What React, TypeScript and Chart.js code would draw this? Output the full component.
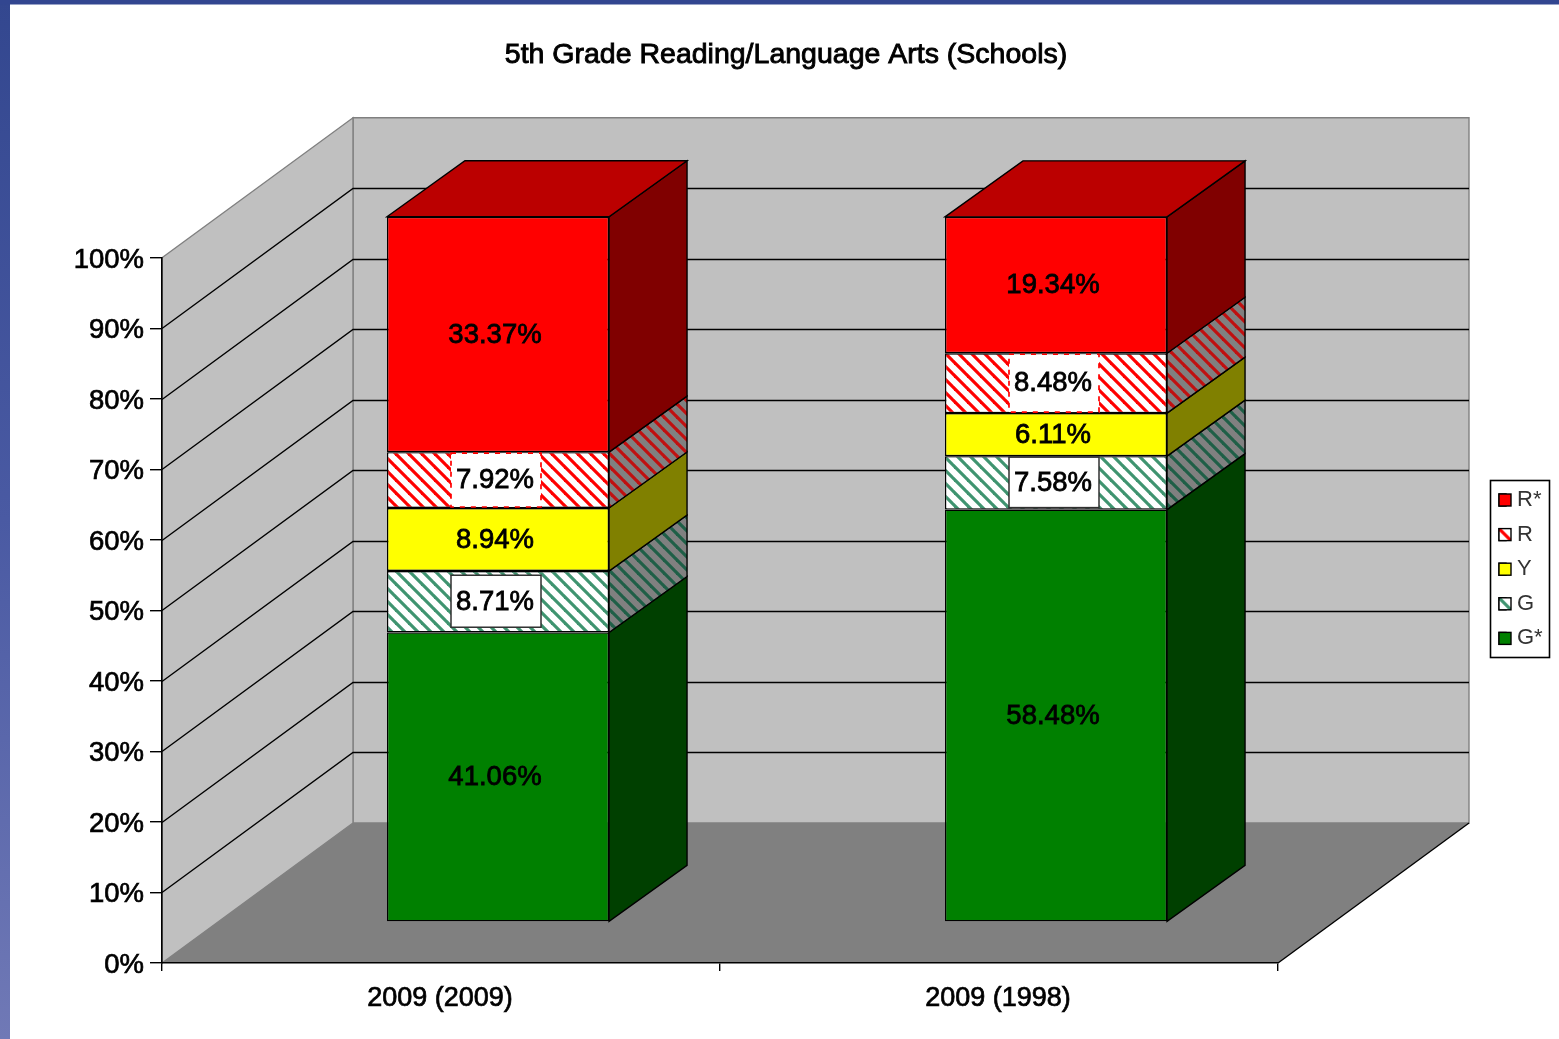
import React, { useEffect, useRef } from "react";
import { Chart, registerables } from "chart.js";

Chart.register(...registerables);

const categories = ["2009 (2009)", "2009 (1998)"];
const gStar = [41.06, 58.48];
const g = [8.71, 7.58];
const y = [8.94, 6.11];
const r = [7.92, 8.48];
const rStar = [33.37, 19.34];

const FONT = "'Liberation Sans', Arial, sans-serif";
const WALL_DX = 191;
const WALL_DY = -140;
const BAR_DX = 57;
const BAR_DY = -41;
const DEPTH_X = 78;
const DEPTH_Y = -56;
const TITLE_SIZE = 28.5;

function hatch(bg: string, fg: string, period = 13, lw = 3.2) {
  const c = document.createElement("canvas");
  c.width = period;
  c.height = period;
  const x = c.getContext("2d")!;
  x.fillStyle = bg;
  x.fillRect(0, 0, period, period);
  x.strokeStyle = fg;
  x.lineWidth = lw;
  for (const o of [-period, 0, period]) {
    x.beginPath();
    x.moveTo(o - 2, -2);
    x.lineTo(o + period + 2, period + 2);
    x.stroke();
  }
  return x.createPattern(c, "repeat")!;
}

function poly(ctx: CanvasRenderingContext2D, pts: number[][], fill: any, stroke?: string | null) {
  ctx.beginPath();
  pts.forEach((p, i) => (i ? ctx.lineTo(p[0], p[1]) : ctx.moveTo(p[0], p[1])));
  ctx.closePath();
  if (fill) {
    ctx.fillStyle = fill;
    ctx.fill();
  }
  if (stroke) {
    ctx.strokeStyle = stroke;
    ctx.lineWidth = 1.4;
    ctx.stroke();
  }
}

function nudgeLabels(scale: any, dx: number, dy: number) {
  if (scale.__nudged) return;
  scale.__nudged = true;
  const orig = scale._computeLabelItems;
  scale._computeLabelItems = function (area: any) {
    const items = orig.call(this, area);
    items.forEach((it: any) => {
      it.options.translation[0] += dx;
      it.options.translation[1] += dy;
    });
    return items;
  };
}

const scenePlugin: any = {
  id: "scene",
  afterLayout(chart: any) {
    const t = chart.titleBlock;
    if (t) {
      t.left = 0;
      t.right = 1572;
    }
    const l = chart.legend;
    if (l) {
      l.left = 1486.4;
      l.right = 1556;
      l.width = 69.6;
      l.top = 476.4;
      l.bottom = 700;
      l.height = 223.6;
    }
    nudgeLabels(chart.scales.y, 0, 2.3);
    nudgeLabels(chart.scales.x, -1, 0);
  },
  beforeDraw(chart: any) {
    const ctx: CanvasRenderingContext2D = chart.ctx;
    const { width, height } = chart;
    ctx.save();
    ctx.fillStyle = "#ffffff";
    ctx.fillRect(0, 0, width, height);
    const grad = ctx.createLinearGradient(0, 0, 0, height);
    grad.addColorStop(0, "#33478f");
    grad.addColorStop(0.5, "#4a5aa3");
    grad.addColorStop(1, "#7079b6");
    ctx.fillStyle = grad;
    ctx.fillRect(0, 0, 10, height);
    ctx.fillStyle = "#324690";
    ctx.fillRect(0, 0, width, 4.5);

    const xs = chart.scales.x;
    const ys = chart.scales.y;
    const x0 = xs.left;
    const x1 = xs.right;
    const yb = ys.getPixelForValue(0);
    const yt = ys.getPixelForValue(100);
    const G = "#c0c0c0";
    poly(ctx, [[x0 + WALL_DX, yt + WALL_DY], [x1 + WALL_DX, yt + WALL_DY], [x1 + WALL_DX, yb + WALL_DY], [x0 + WALL_DX, yb + WALL_DY]], G, "#808080");
    poly(ctx, [[x0, yt], [x0 + WALL_DX, yt + WALL_DY], [x0 + WALL_DX, yb + WALL_DY], [x0, yb]], G, "#808080");
    poly(ctx, [[x0, yb], [x0 + WALL_DX, yb + WALL_DY], [x1 + WALL_DX, yb + WALL_DY], [x1, yb]], "#808080");
    ctx.strokeStyle = "#000000";
    ctx.lineWidth = 1.4;
    ys.ticks.forEach((tk: any) => {
      if (tk.value === 0 || tk.value === 100) return;
      const p = Math.round(ys.getPixelForValue(tk.value)) + 0.5;
      ctx.beginPath();
      ctx.moveTo(x0, p);
      ctx.lineTo(x0 + WALL_DX, p + WALL_DY);
      ctx.lineTo(x1 + WALL_DX, p + WALL_DY);
      ctx.stroke();
    });
    ctx.beginPath();
    ctx.moveTo(x1, yb);
    ctx.lineTo(x1 + WALL_DX, yb + WALL_DY);
    ctx.stroke();
    ctx.restore();
  },
  beforeDatasetsDraw(chart: any) {
    const ctx: CanvasRenderingContext2D = chart.ctx;
    ctx.save();
    chart.data.datasets.forEach((ds: any, di: number) => {
      const meta = chart.getDatasetMeta(di);
      meta.data.forEach((el: any) => {
        const p = el.getProps(["x", "y", "base", "width"], true);
        const right = p.x + p.width / 2 + BAR_DX;
        const left = p.x - p.width / 2 + BAR_DX;
        const top = p.y + BAR_DY;
        const bottom = p.base + BAR_DY;
        poly(ctx, [[right, top], [right + DEPTH_X, top + DEPTH_Y], [right + DEPTH_X, bottom + DEPTH_Y], [right, bottom]], ds.sideColor, "#000000");
        if (di === chart.data.datasets.length - 1) {
          poly(ctx, [[left, top], [left + DEPTH_X, top + DEPTH_Y], [right + DEPTH_X, top + DEPTH_Y], [right, top]], ds.topColor, "#000000");
        }
      });
    });
    ctx.restore();
  },
  beforeDatasetDraw(chart: any) {
    chart.ctx.save();
    chart.ctx.translate(BAR_DX, BAR_DY);
  },
  afterDatasetDraw(chart: any) {
    chart.ctx.restore();
  },
  afterDatasetsDraw(chart: any) {
    const ctx: CanvasRenderingContext2D = chart.ctx;
    ctx.save();
    ctx.font = `27.5px ${FONT}`;
    ctx.textAlign = "center";
    ctx.textBaseline = "middle";
    chart.data.datasets.forEach((ds: any, di: number) => {
      const meta = chart.getDatasetMeta(di);
      meta.data.forEach((el: any, i: number) => {
        const p = el.getProps(["x", "y", "base", "width"], true);
        const cx = p.x + BAR_DX - 3;
        const top = p.y + BAR_DY;
        const bottom = p.base + BAR_DY;
        const cy = (top + bottom) / 2;
        const h = bottom - top;
        if (ds.labelBox === "solid") {
          const bh = Math.min(52, h - 3);
          ctx.fillStyle = "#fff";
          ctx.fillRect(cx - 44, cy - bh / 2 - 0.5, 90, bh);
          ctx.strokeStyle = "#303030";
          ctx.lineWidth = 1.5;
          ctx.strokeRect(cx - 44, cy - bh / 2 - 0.5, 90, bh);
        } else if (ds.labelBox === "dashed") {
          const bh = h - 2;
          ctx.fillStyle = "#fff";
          ctx.fillRect(cx - 44, cy - bh / 2, 90, bh);
          ctx.strokeStyle = "#ff0000";
          ctx.lineWidth = 1.7;
          ctx.setLineDash([5, 6]);
          ctx.strokeRect(cx - 44, cy - bh / 2, 90, bh);
          ctx.setLineDash([]);
        }
        const text = `${ds.data[i].toFixed(2)}%`;
        ctx.fillStyle = "#000";
        ctx.fillText(text, cx, cy + 0.5);
        ctx.strokeStyle = "#000";
        ctx.lineWidth = 0.8;
        ctx.strokeText(text, cx, cy + 0.5);
      });
    });
    ctx.restore();
  },
  afterDraw(chart: any) {
    const ctx: CanvasRenderingContext2D = chart.ctx;
    const l = chart.legend;
    ctx.save();
    const t = chart.titleBlock;
    if (t) {
      ctx.font = `${TITLE_SIZE}px ${FONT}`;
      ctx.textAlign = "center";
      ctx.textBaseline = "middle";
      ctx.strokeStyle = "#000";
      ctx.lineWidth = 0.9;
      const lh = TITLE_SIZE * 1.2;
      ctx.strokeText(chart.options.plugins.title.text, (t.left + t.right) / 2, t.top + 38 + lh / 2);
    }
    if (l) {
      ctx.strokeStyle = "#000";
      ctx.lineWidth = 1.6;
      ctx.strokeRect(1490.5, 480.5, 59, 177);
      const pad = 12.6;
      const fs = 22;
      l.legendItems.forEach((it: any, i: number) => {
        const bx = l.left + pad;
        const by = l.top + pad + i * (fs + pad) + (fs - 12) / 2;
        ctx.save();
        ctx.translate(bx, by);
        ctx.fillStyle = it.fillStyle;
        ctx.fillRect(0, 0, 12, 12);
        ctx.lineWidth = 1.4;
        ctx.strokeRect(0, 0, 12, 12);
        ctx.restore();
      });
    }
    ctx.restore();
  },
};

export default function App() {
  const ref = useRef<HTMLCanvasElement>(null);
  useEffect(() => {
    document.body.style.margin = "0";
    const chart = new Chart(ref.current!, {
      type: "bar",
      data: {
        labels: categories,
        datasets: [
          { label: "G*", data: gStar, backgroundColor: "#008000", sideColor: "#004000", labelBox: "none" },
          { label: "G", data: g, backgroundColor: hatch("#ffffff", "#3f9470"), sideColor: hatch("#808080", "#1f5f47"), labelBox: "solid" },
          { label: "Y", data: y, backgroundColor: "#ffff00", sideColor: "#808000", labelBox: "none" },
          { label: "R", data: r, backgroundColor: hatch("#ffffff", "#ff0000"), sideColor: hatch("#808080", "#c01010"), labelBox: "dashed" },
          { label: "R*", data: rStar, backgroundColor: "#ff0000", sideColor: "#800000", topColor: "#bb0000", labelBox: "none" },
        ] as any,
      },
      options: {
        animation: false,
        responsive: false,
        events: [],
        layout: { padding: { left: 0, right: 281, top: 0, bottom: 0 } },
        datasets: {
          bar: {
            clip: false,
            stack: "s",
            borderColor: "#000000",
            borderWidth: 1.4,
            borderSkipped: false,
            barPercentage: 0.398,
            categoryPercentage: 1,
          },
        } as any,
        plugins: {
          tooltip: { enabled: false },
          title: {
            display: true,
            text: "5th Grade Reading/Language Arts (Schools)",
            color: "#000",
            font: { family: FONT, size: TITLE_SIZE, weight: "normal", lineHeight: 1.2 },
            padding: { top: 38, bottom: 185.6 },
          },
          legend: {
            display: true,
            position: "chartArea",
            align: "start",
            reverse: true,
            labels: {
              boxWidth: 7,
              boxHeight: 12,
              padding: 12.6,
              color: "#333333",
              font: { family: FONT, size: 22, lineHeight: 1 },
            },
          },
        },
        scales: {
          x: {
            stacked: true,
            afterFit: (s: any) => {
              s.height = 76;
            },
            grid: { drawOnChartArea: false, tickLength: 8, lineWidth: 1.4, color: "#000", tickColor: "#000" },
            border: { color: "#000", width: 1.6 },
            ticks: { color: "#000", padding: 11, maxRotation: 0, textStrokeColor: "#000", textStrokeWidth: 0.7, font: { family: FONT, size: 27 } },
          },
          y: {
            stacked: true,
            min: 0,
            max: 100,
            afterFit: (s: any) => {
              s.width = 162;
            },
            grid: { drawOnChartArea: false, tickLength: 12, lineWidth: 1.4, color: "#000", tickColor: "#000" },
            border: { color: "#000", width: 1.6 },
            ticks: {
              stepSize: 10,
              color: "#000",
              padding: 6,
              textStrokeColor: "#000",
              textStrokeWidth: 0.7,
              font: { family: FONT, size: 27.5 },
              callback: (v: any) => `${v}%`,
            },
          },
        },
      },
      plugins: [scenePlugin],
    } as any);
    return () => chart.destroy();
  }, []);
  return <canvas ref={ref} width={1559} height={1039} style={{ display: "block", filter: "blur(0.45px)" }} />;
}
